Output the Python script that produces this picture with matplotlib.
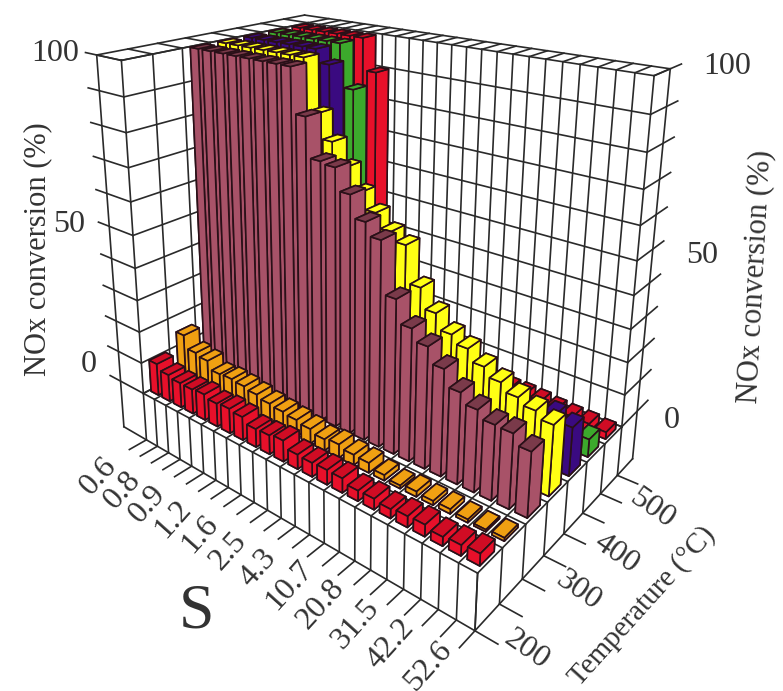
import numpy as np
import matplotlib
matplotlib.use('Agg')
import matplotlib.pyplot as plt
from mpl_toolkits.mplot3d import proj3d

plt.rcParams['font.family'] = ['Liberation Serif', 'DejaVu Serif']

s_labels = ['0.6', '0.8', '0.9', '1.2', '1.6', '2.5', '4.3', '10.7', '20.8', '31.5', '42.2', '52.6']
t_labels = ['200', '300', '400', '500']
z_labels = ['0', '50', '100']

red200 = [10.2, 8.5, 7.8, 7.7, 8.1, 7.2, 7.6, 7.1, 5.5, 5.7, 6.3, 4.3, 4.1, 4.3, 4.2, 3.0, 3.1, 2.6, 3.1, 3.3, 2.5, 2.9, 3.3]
orange250 = [15.1, 11.1, 10.3, 7.8, 8.1, 7.7, 7.0, 6.1, 5.6, 5.1, 4.4, 3.4, 4.0, 3.1, 2.9, 1.6, 0.9, 1.5, 1.2, 1.3, 0.9, 0.6, 0.9]
brown300 = [100]*8 + [87.5, 76.4, 75.8, 69.6, 63.4, 59.8, 45.1, 38.6, 35.3, 30.9, 26.3, 23.5, 21.4, 21.2, 18.4]
yellow350 = [100]*7 + [85.3, 78.2, 72.1, 66.1, 61.5, 57.4, 55.0, 44.4, 38.7, 34.3, 32.0, 28.7, 26.2, 23.9, 22.2, 20.3]
purple400 = [100]*6 + [96.2, 45, 32, 26, 22, 19, 17, 15, 14, 13, 12, 12, 12, 13, 14, 15.7, 14.2]
green450 = [100]*6 + [87.0, 30, 22, 16, 12, 10, 8, 7, 6, 6, 5, 5, 5, 5, 5, 5, 5.3]
red500 = [100]*6 + [90.2, 22, 15, 10, 8, 6, 5, 5, 4, 4, 3.9, 3.9, 3.6, 3.0, 2.7, 2.6, 2.1]

rows = [red200, orange250, brown300, yellow350, purple400, green450, red500]
colors = ['#e8102a', '#f0a012', '#a85268', '#ffff14', '#3a0a80', '#3caa2c', '#e8102a']
tops = ['#d00c24', '#f0a012', '#7a3a4a', '#ffff14', '#3a0a80', '#3caa2c', '#d00c24']

N = len(red200)
M = len(rows)
wall = 2.126     # wall thickness on the S side
wall2 = 0.958    # wall thickness on the temperature side
zb = 15.715      # plinth under the floor
ink = '#2a2a2a'
txt = '#333333'

fig = plt.figure(figsize=(7.83, 6.91), dpi=100)
ax = fig.add_axes([7.93 / 783, 216.02 / 691, 666.53 / 783, 666.53 / 691], projection='3d', computed_zorder=False)
# limits are off-centre on purpose, this moves the point the camera looks at
ax.set_xlim(0.603, 23.603)
ax.set_ylim(-1.452, 5.548)
ax.set_zlim(36.66, 136.66)
ax.set_axis_off()
ax.set_box_aspect((1.405, 0.898, 1.214))
ax.set_proj_type('persp', focal_length=0.272)
ax.view_init(16.5, -50.408, -0.099)


def seg(p, q):
    ax.plot([p[0], q[0]], [p[1], q[1]], [p[2], q[2]], color=ink, lw=1.2, zorder=1, clip_on=False)


def label(x, y, z, text, dx, dy, **kw):
    xp, yp, _ = proj3d.proj_transform(x, y, z, ax.get_proj())
    ax.annotate(text, (xp, yp), xytext=(dx, dy), textcoords='offset pixels', ha='center', va='center',
                color=txt, annotation_clip=False, zorder=900, **kw)


for v in np.arange(0, 101, 10):
    seg((-wall - 1, 0, v), (0, 0, v))
    seg((0, 0, v), (0, M, v))
    seg((0, M, v), (N, M, v))
    seg((N, M, v), (N, M + wall2 + 0.7, v))
for j in range(M + 1):
    seg((0, j, 0), (0, j, 100))
    seg((-wall, j, 100), (0, j, 100))
    seg((0, j, 0), (N, j, 0))
    seg((N, j, 0), (N, j, -zb))
    seg((N, j, -zb), (N + 1.2, j, -zb))
for i in range(N + 1):
    seg((i, M, 0), (i, M, 100))
    seg((i, M, 100), (i, M + wall2, 100))
    seg((i, 0, 0), (i, M, 0))
    seg((i, 0, 0), (i, 0, -zb))
    seg((i, 0, -zb), (i, -0.6, -zb))
seg((-wall, 0, 100), (-wall, M + wall2, 100))
seg((-wall, M + wall2, 100), (N, M + wall2, 100))
seg((0, 0, 100), (0, M, 100))
seg((-wall, 0, -zb), (-wall, 0, 100))
seg((N, M + wall2, -zb), (N, M + wall2, 100))
seg((-wall, 0, -zb), (N, 0, -zb))
seg((N, 0, -zb), (N, M + wall2, -zb))

# back rows first so nearer bars paint over them
order = 3
for j in reversed(range(M)):
    for i in range(N):
        col = [colors[j], tops[j], colors[j], colors[j], colors[j], colors[j]]
        ax.bar3d(i + 0.17, j + 0.21, 0, 0.66, 0.58, rows[j][i], color=col, shade=False,
                 edgecolor='#2a1018', linewidth=1.2, zorder=order, clip_on=False)
        order += 1

for k, lab in enumerate(s_labels):
    label(2 * k + 0.5, 0, -zb, lab, -53 + 16 * k / 11, -33 - 8 * k / 11, rotation=48, rotation_mode='anchor', fontsize=23)
for lab, j, dx, dy in zip(t_labels, range(0, 8, 2), [52, 56, 52, 52], [-19, -12, -20, -15]):
    label(N, j, -zb, lab, dx, dy, rotation=-35, rotation_mode='anchor', fontsize=23)
for lab, v, dx, dy in zip(z_labels, [0, 50, 100], [-32, -40, -42], [17, 2, 1]):
    label(-wall, 0, v, lab, dx, dy, fontsize=23)
for lab, v, dx, dy in zip(z_labels, [0, 50, 100], [35, 49, 57], [-9, -6, 2]):
    label(N, M + wall2, v, lab, dx, dy, fontsize=23)

fig.text(38 / 783, 1 - 249 / 691, 'NOx conversion (%)', rotation=90, ha='center', va='center', fontsize=22, color=txt)
fig.text(755 / 783, 1 - 277 / 691, 'NOx conversion (%)', rotation=87, ha='center', va='center', fontsize=22, color=txt)
fig.text(642 / 783, 1 - 606 / 691, 'Temperature (°C)', rotation=48, ha='center', va='center', fontsize=21, color=txt)
fig.text(197 / 783, 1 - 613 / 691, 'S', ha='center', va='center', fontsize=46, color=txt)

fig.savefig('out.png', dpi=100)
